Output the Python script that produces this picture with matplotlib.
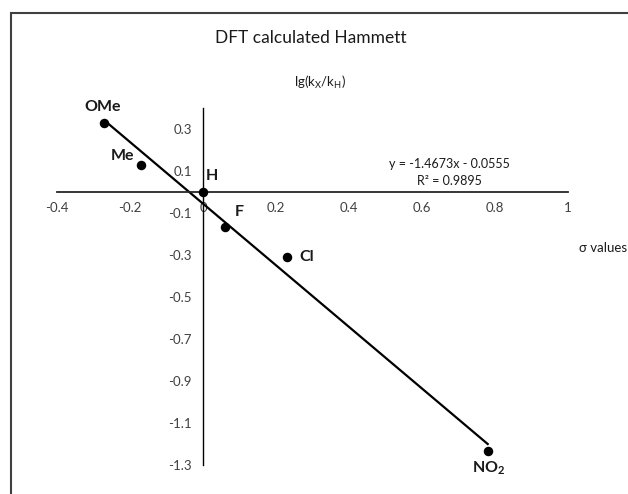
import numpy as np
import matplotlib
matplotlib.use("Agg")
import matplotlib.pyplot as plt
from matplotlib.patches import Rectangle

plt.rcParams['font.family'] = ['Lato', 'DejaVu Sans']
plt.rcParams['mathtext.default'] = 'regular'

# substituent data (sigma, lg(kX/kH))
names = ["OMe", "Me", "H", "F", "Cl", r"NO$_2$"]
sigma = [-0.27, -0.17, 0.0, 0.06, 0.23, 0.78]
lg_k = [0.33, 0.13, 0.0, -0.167, -0.31, -1.233]

# trendline from the chart label
slope = -1.4673
intercept = -0.0555
r2 = 0.9895

x_ticks = [-0.4, -0.2, 0, 0.2, 0.4, 0.6, 0.8, 1.0]
x_tick_labels = ["-0.4", "-0.2", "0", "0.2", "0.4", "0.6", "0.8", "1"]
y_ticks = [-1.3, -1.1, -0.9, -0.7, -0.5, -0.3, -0.1, 0.1, 0.3]
y_tick_labels = ["-1.3", "-1.1", "-0.9", "-0.7", "-0.5", "-0.3", "-0.1", "0.1", "0.3"]

# label offsets (points) for each data label
label_offsets = [(-1.5, 11.5), (-13.5, 6.5), (6.5, 11.5), (10, 11), (14.5, 0), (0.5, -12.5)]

W, H = 628, 494
fig = plt.figure(figsize=(W / 100, H / 100), dpi=100)

# chart area border (cut off at right and bottom)
fig.patches.append(Rectangle((11 / W, -0.1), 1.2, 1 - 13 / H + 0.1, transform=fig.transFigure,
                             fill=False, edgecolor="#404040", linewidth=1.5))

ax = fig.add_axes([57 / W, 1 - 465 / H, 511 / W, 357 / H])
ax.set_xlim(-0.4, 1.0)
ax.set_ylim(-1.3, 0.4)

for s in ["top", "right"]:
    ax.spines[s].set_visible(False)
ax.spines["left"].set_position("zero")
ax.spines["bottom"].set_position("zero")
ax.spines["left"].set_color("black")
ax.spines["bottom"].set_color("#262626")
ax.spines["left"].set_linewidth(1.0)
ax.spines["bottom"].set_linewidth(1.3)

ax.set_xticks(x_ticks)
ax.set_xticklabels(x_tick_labels)
ax.set_yticks(y_ticks)
ax.set_yticklabels(y_tick_labels)
ax.tick_params(axis="x", length=0, pad=7, labelsize=9.5, labelcolor="#404040")
ax.tick_params(axis="y", length=0, pad=8, labelsize=9.5, labelcolor="#404040")

# trendline over data range
xs = np.array([min(sigma), max(sigma)])
ax.plot(xs, slope * xs + intercept, color="black", linewidth=1.6, zorder=2)

ax.scatter(sigma, lg_k, s=34, color="black", zorder=3, clip_on=False)

for name, x, y, off in zip(names, sigma, lg_k, label_offsets):
    ax.annotate(name, (x, y), xytext=off, textcoords="offset points",
                ha="center", va="center", fontsize=11.5, fontweight="bold", color="#1a1a1a")

fig.text(311 / W, 1 - 38 / H, "DFT calculated Hammett", ha="center", va="center",
         fontsize=12.5, color="#1a1a1a")
fig.text(320 / W, 1 - 82 / H, r"lg(k$_X$/k$_H$)", ha="center", va="center",
         fontsize=9.5, color="#1a1a1a")
fig.text(579 / W, 1 - 248 / H, "σ values", ha="left", va="center",
         fontsize=9.5, color="#1a1a1a")
fig.text(449 / W, 1 - 164 / H, "y = %.4fx - %.4f" % (slope, -intercept), ha="center", va="center",
         fontsize=9, color="#1a1a1a")
fig.text(449 / W, 1 - 181 / H, "R² = %.4f" % r2, ha="center", va="center",
         fontsize=9, color="#1a1a1a")

fig.savefig("out.png", dpi=100)
